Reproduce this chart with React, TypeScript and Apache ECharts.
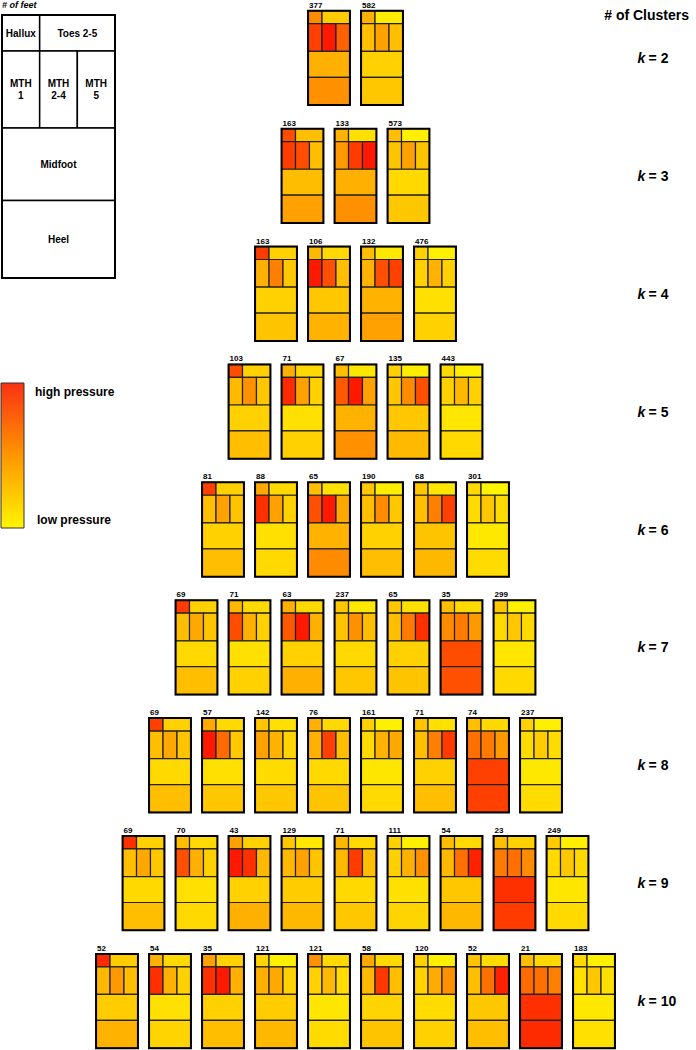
import React, { useEffect, useRef } from "react";
import * as echarts from "echarts";

// ---- data ----
const clusterKs = [2, 3, 4, 5, 6, 7, 8, 9, 10];
const regionNames = ["Hallux", "Toes 2-5", "MTH 1", "MTH 2-4", "MTH 5", "Midfoot", "Heel"];

const feetK2 = [377, 582];
const feetK3 = [163, 133, 573];
const feetK4 = [163, 106, 132, 476];
const feetK5 = [103, 71, 67, 135, 443];
const feetK6 = [81, 88, 65, 190, 68, 301];
const feetK7 = [69, 71, 63, 237, 65, 35, 299];
const feetK8 = [69, 57, 142, 76, 161, 71, 74, 237];
const feetK9 = [69, 70, 43, 129, 71, 111, 54, 23, 249];
const feetK10 = [52, 54, 35, 121, 121, 58, 120, 52, 21, 183];

// relative pressure (0 = low, 1 = high) per region: hallux, toes, mth1, mth2-4, mth5, midfoot, heel
const pressureK2 = [
  [0.45, 0.2, 0.75, 0.9, 0.62, 0.31, 0.43],
  [0.31, 0.07, 0.25, 0.37, 0.25, 0.18, 0.22],
];
const pressureK3 = [
  [0.7, 0.25, 0.76, 0.7, 0.25, 0.26, 0.37],
  [0.3, 0.12, 0.4, 0.77, 0.9, 0.31, 0.43],
  [0.25, 0.06, 0.23, 0.37, 0.23, 0.15, 0.22],
];
const pressureK4 = [
  [0.77, 0.18, 0.31, 0.5, 0.22, 0.18, 0.23],
  [0.28, 0.15, 0.9, 0.69, 0.25, 0.22, 0.3],
  [0.25, 0.09, 0.3, 0.69, 0.75, 0.3, 0.37],
  [0.18, 0.06, 0.18, 0.3, 0.18, 0.12, 0.18],
];
const pressureK5 = [
  [0.7, 0.18, 0.27, 0.43, 0.22, 0.18, 0.25],
  [0.31, 0.15, 0.83, 0.37, 0.18, 0.12, 0.18],
  [0.25, 0.1, 0.65, 0.9, 0.37, 0.3, 0.43],
  [0.18, 0.07, 0.22, 0.45, 0.69, 0.22, 0.27],
  [0.15, 0.06, 0.18, 0.28, 0.18, 0.1, 0.15],
];
const pressureK6 = [
  [0.75, 0.18, 0.25, 0.37, 0.23, 0.18, 0.25],
  [0.34, 0.15, 0.81, 0.37, 0.18, 0.12, 0.15],
  [0.25, 0.12, 0.69, 0.9, 0.34, 0.3, 0.45],
  [0.22, 0.07, 0.25, 0.45, 0.22, 0.18, 0.25],
  [0.22, 0.1, 0.25, 0.5, 0.75, 0.23, 0.28],
  [0.15, 0.04, 0.14, 0.22, 0.14, 0.09, 0.14],
];
const pressureK7 = [
  [0.77, 0.18, 0.25, 0.34, 0.23, 0.15, 0.25],
  [0.28, 0.15, 0.7, 0.31, 0.18, 0.12, 0.18],
  [0.31, 0.15, 0.65, 0.9, 0.31, 0.18, 0.31],
  [0.22, 0.09, 0.23, 0.43, 0.25, 0.15, 0.22],
  [0.22, 0.12, 0.25, 0.52, 0.81, 0.18, 0.23],
  [0.25, 0.15, 0.45, 0.52, 0.4, 0.7, 0.69],
  [0.22, 0.06, 0.15, 0.22, 0.15, 0.1, 0.15],
];
const pressureK8 = [
  [0.75, 0.18, 0.25, 0.34, 0.23, 0.15, 0.25],
  [0.34, 0.15, 0.9, 0.58, 0.22, 0.12, 0.22],
  [0.23, 0.12, 0.37, 0.3, 0.17, 0.14, 0.22],
  [0.31, 0.15, 0.31, 0.75, 0.25, 0.15, 0.23],
  [0.18, 0.06, 0.15, 0.3, 0.34, 0.1, 0.15],
  [0.23, 0.12, 0.25, 0.5, 0.77, 0.18, 0.25],
  [0.25, 0.15, 0.56, 0.52, 0.4, 0.75, 0.75],
  [0.18, 0.06, 0.14, 0.2, 0.14, 0.09, 0.14],
];
const pressureK9 = [
  [0.81, 0.18, 0.25, 0.34, 0.22, 0.15, 0.25],
  [0.25, 0.15, 0.69, 0.31, 0.18, 0.12, 0.15],
  [0.37, 0.18, 0.9, 0.81, 0.28, 0.18, 0.31],
  [0.22, 0.09, 0.28, 0.37, 0.23, 0.2, 0.28],
  [0.28, 0.15, 0.28, 0.77, 0.25, 0.15, 0.22],
  [0.18, 0.06, 0.18, 0.31, 0.43, 0.12, 0.17],
  [0.25, 0.15, 0.28, 0.56, 0.87, 0.22, 0.28],
  [0.25, 0.18, 0.52, 0.56, 0.45, 0.81, 0.77],
  [0.2, 0.06, 0.15, 0.22, 0.15, 0.1, 0.15],
];
const pressureK10 = [
  [0.83, 0.2, 0.28, 0.4, 0.25, 0.2, 0.3],
  [0.31, 0.15, 0.81, 0.31, 0.18, 0.12, 0.17],
  [0.37, 0.18, 0.81, 0.9, 0.31, 0.18, 0.25],
  [0.17, 0.06, 0.31, 0.34, 0.18, 0.2, 0.28],
  [0.43, 0.15, 0.18, 0.28, 0.14, 0.1, 0.14],
  [0.34, 0.15, 0.28, 0.78, 0.25, 0.17, 0.23],
  [0.18, 0.06, 0.18, 0.33, 0.43, 0.14, 0.18],
  [0.23, 0.14, 0.25, 0.56, 0.87, 0.22, 0.25],
  [0.25, 0.15, 0.58, 0.56, 0.5, 0.81, 0.83],
  [0.15, 0.06, 0.12, 0.22, 0.12, 0.09, 0.12],
];

const footCounts = [feetK2, feetK3, feetK4, feetK5, feetK6, feetK7, feetK8, feetK9, feetK10];
const pressures = [pressureK2, pressureK3, pressureK4, pressureK5, pressureK6, pressureK7, pressureK8, pressureK9, pressureK10];

// ---- layout (not data) ----
const FONT = "'Liberation Sans', Arial, sans-serif";
const FOOT_W = 0.79; // fraction of slot width
const FOOT_H = 0.8; // fraction of row band
const TOP_H = 0.137;
const MTH_B = 0.43;
const MID_B = 0.705;
// [x, y, w, h] as fractions of foot box, in regionNames order
const REGION_BOXES = [
  [0, 0, 1 / 3, TOP_H],
  [1 / 3, 0, 2 / 3, TOP_H],
  [0, TOP_H, 1 / 3, MTH_B - TOP_H],
  [1 / 3, TOP_H, 1 / 3, MTH_B - TOP_H],
  [2 / 3, TOP_H, 1 / 3, MTH_B - TOP_H],
  [0, MTH_B, 1, MID_B - MTH_B],
  [0, MID_B, 1, 1 - MID_B],
];

const pressureColor = (v: number) => `rgb(255,${Math.round(255 * (1 - v))},0)`;

function buildLegendGraphic() {
  const L = 2, T = 15, W = 113, H = 263;
  const els: any[] = [];
  const labels = ["Hallux", "Toes 2-5", "MTH\n1", "MTH\n2-4", "MTH\n5", "Midfoot", "Heel"];
  REGION_BOXES.forEach((b, j) => {
    const x = L + b[0] * W, y = T + b[1] * H, w = b[2] * W, h = b[3] * H;
    els.push({
      type: "rect",
      shape: { x, y, width: w, height: h },
      style: { fill: "#fff", stroke: "#000", lineWidth: 1.5 },
    });
    els.push({
      type: "text",
      x: x + w / 2,
      y: y + h / 2,
      style: {
        text: labels[j],
        align: "center",
        verticalAlign: "middle",
        font: `bold 10px ${FONT}`,
        lineHeight: 12,
        fill: "#000",
      },
    });
  });
  els.push({
    type: "rect",
    shape: { x: L, y: T, width: W, height: H },
    style: { fill: "none", stroke: "#000", lineWidth: 2 },
  });
  els.push({
    type: "text",
    x: 2,
    y: 5,
    style: { text: "# of feet", font: `italic bold 9px ${FONT}`, verticalAlign: "middle", fill: "#000" },
  });
  // colour bar
  els.push({
    type: "rect",
    shape: { x: 1, y: 383, width: 23, height: 145 },
    style: {
      fill: new echarts.graphic.LinearGradient(0, 0, 0, 1, [
        { offset: 0, color: "rgb(250,50,20)" },
        { offset: 0.5, color: "rgb(255,150,0)" },
        { offset: 1, color: "rgb(255,245,0)" },
      ]),
      stroke: "#333",
      lineWidth: 1,
    },
  });
  els.push({
    type: "text",
    x: 35,
    y: 392,
    style: { text: "high pressure", font: `bold 12px ${FONT}`, verticalAlign: "middle", fill: "#000" },
  });
  els.push({
    type: "text",
    x: 37,
    y: 520,
    style: { text: "low pressure", font: `bold 12px ${FONT}`, verticalAlign: "middle", fill: "#000" },
  });
  return els;
}

export default function App() {
  const ref = useRef<HTMLDivElement>(null);
  useEffect(() => {
    if (!ref.current) return;
    const chart = echarts.init(ref.current, undefined, { renderer: "svg" });
    const data: any[] = [];
    footCounts.forEach((counts, row) => {
      const n = counts.length;
      counts.forEach((cnt, i) => {
        data.push([i - (n - 1) / 2, row, cnt, ...pressures[row][i]]);
      });
    });
    chart.setOption({
      animation: false,
      backgroundColor: "#fff",
      title: {
        text: "# of Clusters",
        right: 2,
        top: 3,
        textStyle: { fontFamily: FONT, fontWeight: "bold", fontSize: 14, color: "#000" },
      },
      grid: { left: 90.5, width: 530, top: -1, height: 1061, outerBoundsMode: "none", containLabel: false },
      xAxis: { type: "value", min: -5, max: 5, show: false },
      yAxis: {
        type: "category",
        data: clusterKs.map(String),
        inverse: true,
        position: "right",
        axisLine: { show: false },
        axisTick: { show: false },
        splitLine: { show: false },
        axisLabel: {
          interval: 0,
          margin: 17,
          align: "left",
          formatter: (v: string) => `{i|k} {n|= ${v}}`,
          rich: {
            i: { fontFamily: FONT, fontStyle: "italic", fontWeight: "bold", fontSize: 14, color: "#000" },
            n: { fontFamily: FONT, fontWeight: "bold", fontSize: 14, color: "#000" },
          },
        },
      },
      graphic: buildLegendGraphic(),
      series: [
        {
          type: "custom",
          data,
          clip: false,
          renderItem: (params: any, api: any) => {
            const c = api.coord([api.value(0), api.value(1)]);
            const unitW = api.size([1, 0])[0];
            const unitH = api.size([0, 1])[1];
            const w = unitW * FOOT_W;
            const h = unitH * FOOT_H;
            const x0 = c[0] - w / 2;
            const y0 = c[1] - h / 2;
            const children: any[] = REGION_BOXES.map((b, j) => ({
              type: "rect",
              shape: { x: x0 + b[0] * w, y: y0 + b[1] * h, width: b[2] * w, height: b[3] * h },
              style: { fill: pressureColor(api.value(3 + j)), stroke: "#222", lineWidth: 1.2 },
            }));
            children.push({
              type: "rect",
              shape: { x: x0, y: y0, width: w, height: h },
              style: { fill: "none", stroke: "#000", lineWidth: 2 },
            });
            children.push({
              type: "text",
              x: x0 + 1,
              y: y0 - 1.5,
              style: {
                text: String(api.value(2)),
                font: `bold 8px ${FONT}`,
                verticalAlign: "bottom",
                align: "left",
                fill: "#000",
              },
            });
            return { type: "group", children };
          },
        },
      ],
    });
    return () => chart.dispose();
  }, []);
  return (
    <div
      ref={ref}
      style={{ position: "absolute", left: 0, top: 0, width: 696, height: 1050 }}
    />
  );
}
